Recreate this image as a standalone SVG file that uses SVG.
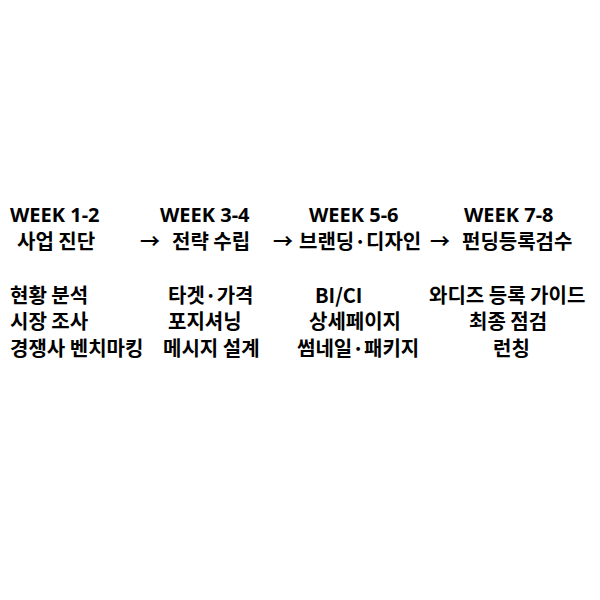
<svg xmlns="http://www.w3.org/2000/svg" width="600" height="600" viewBox="0 0 600 600">
<style>
text{font-family:"Noto Sans CJK KR","Noto Sans",sans-serif;font-weight:bold;font-size:20px;fill:#000}
.w{font-family:"Noto Sans","Noto Sans CJK KR",sans-serif;font-size:20px}
</style>
<rect width="600" height="600" fill="#fff"/>
<g id="week12">
<text class="w" x="10" y="222">WEEK 1-2</text>
<text x="17" y="249">사업 진단</text>
<text x="10" y="303">현황 분석</text>
<text x="10" y="329">시장 조사</text>
<text x="10" y="356">경쟁사 벤치마킹</text>
</g>
<g id="week34">
<text class="w" x="160" y="222">WEEK 3-4</text>
<text x="172" y="249">전략 수립</text>
<text x="168" y="303">타겟·가격</text>
<text x="168" y="329">포지셔닝</text>
<text x="163" y="356">메시지 설계</text>
</g>
<g id="week56">
<text class="w" x="309" y="222">WEEK 5-6</text>
<text x="299" y="249">브랜딩·디자인</text>
<text x="315" y="303">BI/CI</text>
<text x="309" y="329">상세페이지</text>
<text x="297" y="356">썸네일·패키지</text>
</g>
<g id="week78">
<text class="w" x="464" y="222">WEEK 7-8</text>
<text x="462" y="249">펀딩등록검수</text>
<text x="429" y="303">와디즈 등록 가이드</text>
<text x="469" y="329">최종 점검</text>
<text x="493" y="356">런칭</text>
</g>
<g id="connectors">
<text x="140" y="249">→</text>
<text x="273" y="249">→</text>
<text x="430" y="249">→</text>
</g>
</svg>
